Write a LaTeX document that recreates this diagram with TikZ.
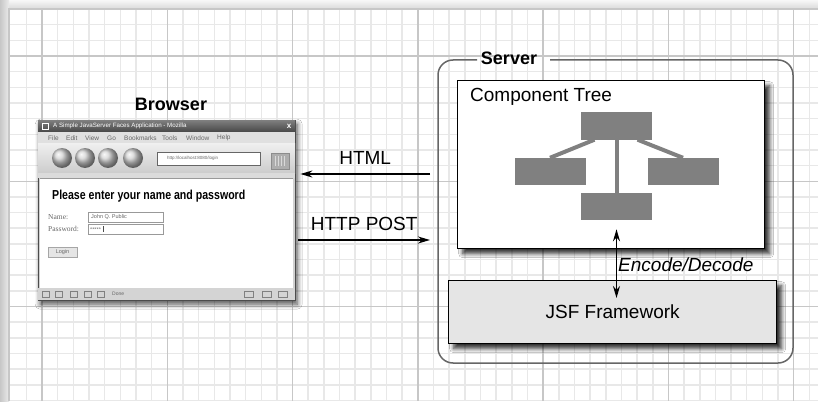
\documentclass[tikz,border=0pt]{standalone}
\usepackage{fontspec}
\setmainfont{Liberation Sans}
\newfontfamily\webserif{Liberation Serif}
\usetikzlibrary{arrows.meta}
\usetikzlibrary{shadows, shadows.blur}
\usetikzlibrary{positioning}

\tikzset{
  minorline/.style={draw=black!9,line width=1.5pt},
  majorline/.style={draw=black!22,line width=1.5pt},
  treebox/.style={rectangle,fill=black!50,minimum width=71pt,minimum height=27pt,inner sep=0pt},
  treeedge/.style={draw=black!50,line width=4pt},
  flowarrow/.style={line width=1.5pt,-{Stealth[length=12pt,width=7pt]}},
  biglabel/.style={font=\fontsize{19}{22}\selectfont},
  bigbold/.style={font=\bfseries\fontsize{18}{20}\selectfont},
  boxshadow/.style={blur shadow={shadow xshift=5pt,shadow yshift=-5pt,shadow opacity=80,shadow blur steps=8,shadow blur radius=4pt}},
  menuitem/.style={font=\fontsize{6.5}{7}\selectfont,text=black!60,anchor=west,inner sep=0pt},
  tinytext/.style={font=\fontsize{5.5}{6}\selectfont,text=black!60,anchor=west,inner sep=0pt},
  formlabel/.style={font=\webserif\fontsize{7.5}{8}\selectfont,text=black!60,anchor=west,inner sep=0pt},
}

\begin{document}
\begin{tikzpicture}[x=1pt,y=-1pt]
\useasboundingbox (0,0) rectangle (818,401);
% paper and grid
\shade[top color=black!3,bottom color=black!15] (0,0) rectangle (818,9);
\shade[left color=black!22,right color=black!8] (0,0) rectangle (9,401);
\fill[white] (9,9) rectangle (818,401);
\foreach \i in {1,...,51} \draw[minorline] ({10.7+15.66*\i},9) -- ({10.7+15.66*\i},401);
\foreach \j in {1,...,25} \draw[minorline] (9,{9+15.66*\j}) -- (818,{9+15.66*\j});
\foreach \i in {2,10,...,50} \draw[majorline] ({10.7+15.66*\i},9) -- ({10.7+15.66*\i},401);
\foreach \j in {3,11,19} \draw[majorline] (9,{9+15.66*\j}) -- (818,{9+15.66*\j});
\draw[majorline] (9,401) -- (9,9) -- (818,9);

% browser window
\node[draw=black!70,fill=black!18,minimum width=257pt,minimum height=180pt,inner sep=0pt,anchor=north west,
  blur shadow={shadow xshift=2pt,shadow yshift=-4pt,shadow opacity=70,shadow blur steps=8,shadow blur radius=5pt}] (win) at (38,120) {};
\shade[top color=black!50,bottom color=black!72] (38,120) rectangle (295,132);
\draw[white,line width=0.6pt] (42,123) rectangle (48,129);
\node[font=\fontsize{6.2}{7}\selectfont,text=white,anchor=west,inner sep=0pt] (wintitle) at (53,126) {A Simple JavaServer Faces Application - Mozilla};
\node[font=\bfseries\fontsize{8}{8}\selectfont,text=white,inner sep=0pt] (winclose) at (289,126) {x};
\fill[black!12] (38,132) rectangle (295,143);
\foreach \x/\t in {48/File,66/Edit,85/View,107/Go,124/Bookmarks,162/Tools,186/Window,217/Help}
  \node[menuitem] at (\x,138) {\t};
\shade[top color=black!6,bottom color=black!20] (38,143) rectangle (295,173);
\foreach \x in {62,85,108,133} \shade[ball color=black!18] (\x,158) circle[radius=10pt];
\draw[black!60,fill=white] (157,152) rectangle (260,165);
\node[tinytext,font=\fontsize{4.5}{5}\selectfont] (url) at (167,158.5) {http://localhost:8080/login};
\draw[black!45,fill=black!32] (271,153) rectangle (289,169);
\foreach \x in {275,278,281,284} \draw[black!15,line width=0.6pt] (\x,156) -- (\x,166);
\fill[black!14] (38,173) rectangle (295,178);
\fill[white] (40,178) rectangle (293,288);
\draw[black!40] (40,178) -- (293,178);
\fill[black!17] (38,288) rectangle (295,300);
\foreach \x in {42,55,70,84,97} \draw[black!50,line width=0.5pt] (\x,291) rectangle ++(7,6);
\foreach \x in {244,262,278} \draw[black!50,line width=0.5pt] (\x,291) rectangle ++(9,6);
\node[tinytext,font=\fontsize{5}{6}\selectfont] (status) at (112,294) {Done};

% login form
\node[font=\bfseries\fontsize{13}{14}\selectfont,anchor=west,inner sep=0pt] (prompt) at (52,196) {\scalebox{0.815}[1]{Please enter your name and password}};
\node[formlabel] (namelbl) at (48,217) {Name:};
\node[formlabel] (pwlbl) at (48,229) {Password:};
\draw[black!40,fill=white] (88,212) rectangle (163,222);
\node[tinytext] (nameval) at (91,217) {John Q. Public};
\draw[black!40,fill=white] (88,224) rectangle (163,234);
\node[tinytext] (pwval) at (90,229.5) {*****};
\draw[black!70,line width=0.6pt] (103,226) -- (103,232);
\draw[black!35,fill=black!10] (48,247) rectangle (77,257);
\node[tinytext,anchor=center] (loginbtn) at (62.5,252) {Login};

\node[bigbold] (browserlbl) at (171,104) {Browser};

% server
\draw[black!60,line width=1.5pt,rounded corners=15pt] (550,60) -- (793,60) -- (793,363) -- (438,363) -- (438,60) -- (477,60);
\node[bigbold] (serverlbl) at (509,58) {Server};

\node[draw=black,line width=1.3pt,fill=white,minimum width=307pt,minimum height=168pt,anchor=north west,inner sep=0pt,boxshadow] (tree) at (457,80) {};
\node[biglabel,anchor=west,inner sep=0pt] (treelbl) at (470,97) {Component Tree};
\node[treebox] (troot) at (616.5,126) {};
\node[treebox] (tleft) at (550,171.5) {};
\node[treebox] (tright) at (683,171.5) {};
\node[treebox] (tbottom) at (616.5,206.5) {};
\draw[treeedge] (troot.south) -- (tbottom.north);
\draw[treeedge] ([xshift=-22pt]troot.south) -- (tleft.north);
\draw[treeedge] ([xshift=21pt]troot.south) -- (tright.north);

\node[draw=black,line width=1.3pt,fill=black!10,minimum width=328pt,minimum height=63pt,anchor=north west,inner sep=0pt,boxshadow,biglabel] (jsf) at (448,280) {JSF Framework};

\path (troot.south |- tree.south) ++(0,-20) coordinate (enctop);
\path (troot.south |- jsf.north) ++(0,18) coordinate (encbot);
\draw[line width=1.5pt,{Stealth[length=12pt,width=7pt]}-{Stealth[length=12pt,width=7pt]}] (enctop) -- (encbot);
\node[font=\itshape\fontsize{19}{22}\selectfont,anchor=west,inner sep=0pt] (enclbl) at (618,265) {Encode/Decode};

% messages
\coordinate (htmlfrom) at (430,174);
\path (htmlfrom -| win.east) ++(5,0) coordinate (htmlto);
\draw[flowarrow] (htmlfrom) -- node[biglabel,above=5pt] (htmllbl) {HTML} (htmlto);
\coordinate (postto) at (430,240);
\path (postto -| win.east) ++(3,0) coordinate (postfrom);
\draw[flowarrow] (postfrom) -- node[biglabel,above=5pt] (postlbl) {HTTP POST} (postto);

\end{tikzpicture}
\end{document}
